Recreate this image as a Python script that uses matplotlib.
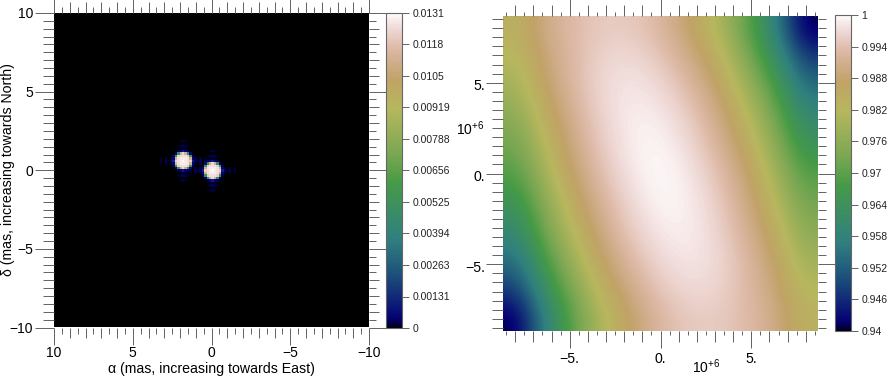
import numpy as np
import matplotlib
matplotlib.use("Agg")
import matplotlib.pyplot as plt
from matplotlib.transforms import ScaledTranslation

plt.rcParams["font.family"] = ["Liberation Sans", "DejaVu Sans"]
plt.rcParams["mathtext.fontset"] = "custom"
plt.rcParams["mathtext.rm"] = "Liberation Sans"

W, H = 894, 377

# left panel: source image, in units of 1e-4, one stamp per star
IMAGE_CELLS = 128
IMAGE_LIMIT = 10.0
STAR_X = [1.9, 0.0]
STAR_Y = [0.7, 0.0]
STAMP = [
    [0, 0, 0, 0, 0, 0, 0, 0, 0, 1, 2, 1, 0, 0, 0, 0, 0, 0, 0, 0, 0],
    [0, 0, 0, 0, 0, 0, 0, 0, 0, 0, 0, 0, 0, 0, 0, 0, 0, 0, 0, 0, 0],
    [0, 0, 0, 0, 0, 0, 0, 0, 1, 2, 3, 2, 1, 0, 0, 0, 0, 0, 0, 0, 0],
    [0, 0, 0, 0, 0, 0, 0, 0, 0, 1, 1, 1, 0, 0, 0, 0, 0, 0, 0, 0, 0],
    [0, 0, 0, 0, 0, 0, 0, 0, 3, 5, 10, 5, 3, 0, 0, 0, 0, 0, 0, 0, 0],
    [0, 0, 0, 0, 0, 0, 0, 5, 45, 112, 124, 112, 45, 5, 0, 0, 0, 0, 0, 0, 0],
    [0, 0, 0, 0, 0, 0, 3, 52, 122, 126, 126, 126, 122, 52, 3, 0, 0, 0, 0, 0, 0],
    [0, 1, 0, 2, 0, 2, 5, 112, 126, 128, 128, 128, 126, 112, 5, 2, 0, 2, 0, 1, 0],
    [0, 2, 0, 3, 1, 3, 12, 122, 126, 128, 131, 128, 126, 122, 12, 3, 1, 3, 0, 2, 0],
    [0, 1, 0, 2, 0, 2, 5, 112, 126, 128, 128, 128, 126, 112, 5, 2, 0, 2, 0, 1, 0],
    [0, 0, 0, 0, 0, 0, 3, 52, 122, 126, 126, 126, 122, 52, 3, 0, 0, 0, 0, 0, 0],
    [0, 0, 0, 0, 0, 0, 0, 5, 45, 112, 124, 112, 45, 5, 0, 0, 0, 0, 0, 0, 0],
    [0, 0, 0, 0, 0, 0, 0, 0, 3, 5, 10, 5, 3, 0, 0, 0, 0, 0, 0, 0, 0],
    [0, 0, 0, 0, 0, 0, 0, 0, 0, 1, 1, 1, 0, 0, 0, 0, 0, 0, 0, 0, 0],
    [0, 0, 0, 0, 0, 0, 0, 0, 1, 2, 3, 2, 1, 0, 0, 0, 0, 0, 0, 0, 0],
    [0, 0, 0, 0, 0, 0, 0, 0, 0, 0, 0, 0, 0, 0, 0, 0, 0, 0, 0, 0, 0],
    [0, 0, 0, 0, 0, 0, 0, 0, 0, 1, 2, 1, 0, 0, 0, 0, 0, 0, 0, 0, 0],
]
IMAGE_TICKS = [0, 0.00131, 0.00263, 0.00394, 0.00525, 0.00656, 0.00788, 0.00919, 0.0105, 0.0118, 0.0131]
IMAGE_LABELS = ["0", "0.00131", "0.00263", "0.00394", "0.00525", "0.00656", "0.00788", "0.00919", "0.0105", "0.0118", "0.0131"]
IMAGE_MAJOR = [10, 5, 0, -5, -10]
IMAGE_MAJOR_LABELS = ["10", "5", "0", "\u22125", "\u221210"]

# right panel: visibility on a coarse grid, top row first
VIS_LIMIT = 8.67
VIS = [
    [0.9835, 0.9905, 0.9935, 0.9955, 0.9953, 0.9929, 0.9877, 0.981, 0.971, 0.958, 0.940],
    [0.9813, 0.9892, 0.9935, 0.9967, 0.9972, 0.9952, 0.9908, 0.9845, 0.9748, 0.963, 0.948],
    [0.9785, 0.9875, 0.9932, 0.9972, 0.9985, 0.9971, 0.9935, 0.9877, 0.979, 0.9685, 0.954],
    [0.9755, 0.985, 0.9918, 0.9967, 0.999, 0.9987, 0.9957, 0.9904, 0.9827, 0.9728, 0.9598],
    [0.9722, 0.9823, 0.9902, 0.9958, 0.9991, 0.9996, 0.9973, 0.9924, 0.9856, 0.976, 0.9641],
    [0.9688, 0.9795, 0.9884, 0.9945, 0.9985, 1.0, 0.9985, 0.9945, 0.9884, 0.9795, 0.9688],
    [0.9641, 0.976, 0.9856, 0.9924, 0.9973, 0.9996, 0.9991, 0.9958, 0.9902, 0.9823, 0.9722],
    [0.9598, 0.9728, 0.9827, 0.9904, 0.9957, 0.9987, 0.999, 0.9967, 0.9918, 0.985, 0.9755],
    [0.954, 0.9685, 0.979, 0.9877, 0.9935, 0.9971, 0.9985, 0.9972, 0.9932, 0.9875, 0.9785],
    [0.948, 0.963, 0.9748, 0.9845, 0.9908, 0.9952, 0.9972, 0.9967, 0.9935, 0.9892, 0.9813],
    [0.940, 0.958, 0.971, 0.981, 0.9877, 0.9929, 0.9953, 0.9955, 0.9935, 0.9905, 0.9835],
]
VIS_TICKS = [0.94, 0.946, 0.952, 0.958, 0.964, 0.97, 0.976, 0.982, 0.988, 0.994, 1]
VIS_LABELS = ["0.94", "0.946", "0.952", "0.958", "0.964", "0.97", "0.976", "0.982", "0.988", "0.994", "1"]
VIS_MAJOR = [-5, 0, 5]
VIS_MAJOR_LABELS = ["\u22125.", "0.", "5."]

TICK_COLOR = "#666666"
TICK_WIDTH = 0.72


def axes_px(fig, x0, y0, x1, y1):
    # pixel box of the picture, y counted from the top
    return fig.add_axes([x0 / W, 1 - y1 / H, (x1 - x0) / W, (y1 - y0) / H])


def build_image():
    img = np.zeros((IMAGE_CELLS, IMAGE_CELLS))
    stamp = np.array(STAMP, dtype=float) * 1e-4
    rows, cols = stamp.shape
    cell = 2 * IMAGE_LIMIT / IMAGE_CELLS
    for sx, sy in zip(STAR_X, STAR_Y):
        c = int(round((IMAGE_LIMIT - sx) / cell))
        r = int(round((IMAGE_LIMIT - sy) / cell))
        img[r - rows // 2:r + rows // 2 + 1, c - cols // 2:c + cols // 2 + 1] += stamp
    return img


def side_ticks(ax, side, ticks, length):
    # one band of ticks on one side, each side has its own lengths
    if side in ("top", "bottom"):
        sec = ax.secondary_xaxis(side)
        sec.set_xticks(ticks)
        sec.set_xticklabels([])
    else:
        sec = ax.secondary_yaxis(side)
        sec.set_yticks(ticks)
        sec.set_yticklabels([])
    sec.tick_params(length=length, width=TICK_WIDTH, color=TICK_COLOR)
    for spine in sec.spines.values():
        spine.set_visible(False)


def style_axes(ax, limit, major, labels, lengths, label_size, pad_x, pad_y):
    ax.set_xticks(major)
    ax.set_yticks(major)
    ax.set_xticklabels(labels, fontsize=label_size)
    ax.set_yticklabels(labels, fontsize=label_size)
    ax.tick_params(axis="x", length=lengths["bottom"][0], width=TICK_WIDTH, color=TICK_COLOR, pad=pad_x)
    ax.tick_params(axis="y", length=lengths["left"][0], width=TICK_WIDTH, color=TICK_COLOR, pad=pad_y)
    for spine in ax.spines.values():
        spine.set_visible(False)

    whole = np.arange(-np.floor(limit), np.floor(limit) + 1)
    halves = np.arange(-np.floor(limit) - 0.5, np.floor(limit) + 1)
    halves = halves[np.abs(halves) <= limit]
    whole = [t for t in whole if t not in major]

    for side, (long_len, mid_len, short_len) in lengths.items():
        side_ticks(ax, side, whole, mid_len)
        side_ticks(ax, side, halves, short_len)
        if side in ("top", "right"):
            side_ticks(ax, side, major, long_len)


def style_colorbar(cbar, ticks, labels):
    cbar.set_ticks(ticks)
    cbar.set_ticklabels(labels)
    cbar.ax.tick_params(length=5, width=TICK_WIDTH, color=TICK_COLOR, labelsize=7.5, pad=2.5, labelcolor="#222222")
    cbar.ax.minorticks_off()
    cbar.outline.set_edgecolor(TICK_COLOR)
    cbar.outline.set_linewidth(0.8)


def main():
    fig = plt.figure(figsize=(W / 100, H / 100), dpi=100)

    # left panel
    ax1 = axes_px(fig, 54, 13, 369, 327.5)
    im1 = ax1.imshow(build_image(), cmap="gist_earth", vmin=0, vmax=0.0131,
                     extent=(10, -10, -10, 10), aspect="auto", interpolation="nearest")
    style_axes(ax1, IMAGE_LIMIT, IMAGE_MAJOR, IMAGE_MAJOR_LABELS,
               {"left": (14, 8, 8), "right": (12, 7, 5), "top": (12, 8, 4), "bottom": (12, 7, 4)},
               10, 1.5, 1)
    fig.text(211 / W, 1 - 369 / H, "\u03b1 (mas, increasing towards East)", fontsize=10.2, ha="center", va="center")
    fig.text(8 / W, 1 - 170 / H, "\u03b4 (mas, increasing towards North)", fontsize=10.2,
             ha="center", va="center", rotation=90)

    cax1 = axes_px(fig, 386, 13, 402, 328)
    style_colorbar(fig.colorbar(im1, cax=cax1), IMAGE_TICKS, IMAGE_LABELS)

    # right panel
    ax2 = axes_px(fig, 503, 16, 818, 331)
    im2 = ax2.imshow(np.array(VIS), cmap="gist_earth", vmin=0.94, vmax=1,
                     extent=(-VIS_LIMIT, VIS_LIMIT, -VIS_LIMIT, VIS_LIMIT),
                     aspect="auto", interpolation="bicubic")
    style_axes(ax2, VIS_LIMIT, VIS_MAJOR, VIS_MAJOR_LABELS,
               {"left": (12, 8, 8), "right": (12, 6, 6), "top": (12, 8, 3), "bottom": (12, 8, 3)},
               10.2, 3, 1)
    shift = ScaledTranslation(0, -2 / 100, fig.dpi_scale_trans)
    for label in ax2.get_yticklabels():
        label.set_transform(label.get_transform() + shift)

    fig.text(706 / W, 1 - 367 / H, r"$\mathrm{10}^{+6}$", fontsize=10, ha="center", va="center")
    fig.text(470 / W, 1 - 129 / H, r"$\mathrm{10}^{+6}$", fontsize=10, ha="center", va="center")

    cax2 = axes_px(fig, 835, 15, 851, 331)
    style_colorbar(fig.colorbar(im2, cax=cax2), VIS_TICKS, VIS_LABELS)

    fig.savefig("out.png", dpi=100)
    plt.close(fig)


if __name__ == "__main__":
    main()
